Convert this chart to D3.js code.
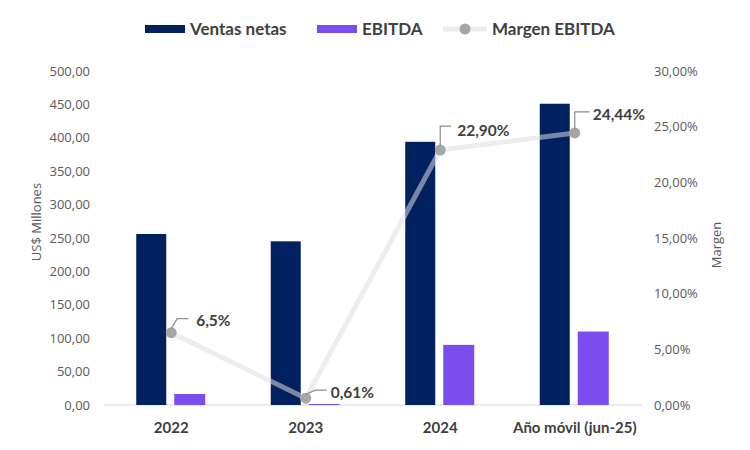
<!DOCTYPE html>
<html>
<head>
<meta charset="utf-8">
<script src="https://cdn.jsdelivr.net/npm/d3@7"></script>
<style>
  body { margin: 0; background: #fff; }
</style>
</head>
<body>
<svg width="750" height="450" font-family="Lato, 'Open Sans', sans-serif"></svg>
<script>
const categories = ["2022", "2023", "2024", "Año móvil (jun-25)"];
const ventasNetas = [256, 245, 394, 451];
const ebitda = [16.5, 1.5, 90, 110];
const margen = [6.5, 0.61, 22.9, 24.44];
const margenLabels = ["6,5%", "0,61%", "22,90%", "24,44%"];
const leftTicks = [0, 50, 100, 150, 200, 250, 300, 350, 400, 450, 500];
const rightTicks = [0, 5, 10, 15, 20, 25, 30];

const svg = d3.select("svg");
const margin = { top: 71, right: 108, bottom: 45, left: 104 };
const width = 750, height = 450;
const innerWidth = width - margin.left - margin.right;
const innerHeight = height - margin.top - margin.bottom;

const navy = "#002060";
const purple = "#7c4dee";
const textCol = "#595959";
const labelCol = "#404040";

const x = d3.scaleBand().domain(categories).range([0, innerWidth]);
const y = d3.scaleLinear().domain([0, 500]).range([innerHeight, 0]);
const y2 = d3.scaleLinear().domain([0, 30]).range([innerHeight, 0]);

const fmt = (v) => d3.format(".2f")(v).replace(".", ",");

const g = svg.append("g").attr("transform", `translate(${margin.left},${margin.top})`);

// left tick labels
g.selectAll(".ltick")
  .data(leftTicks)
  .enter().append("text")
  .attr("class", "tick-label")
  .attr("x", -14)
  .attr("y", (d) => y(d) + 4.5)
  .attr("text-anchor", "end")
  .text(fmt);

// right tick labels
g.selectAll(".rtick")
  .data(rightTicks)
  .enter().append("text")
  .attr("class", "tick-label")
  .attr("x", innerWidth + 12)
  .attr("y", (d) => y2(d) + 4.5)
  .text((d) => fmt(d) + "%");

// axis titles
svg.append("text")
  .attr("class", "tick-label")
  .attr("transform", "translate(41,222) rotate(-90)")
  .attr("text-anchor", "middle")
  .text("US$ Millones");
svg.append("text")
  .attr("class", "tick-label")
  .attr("transform", "translate(721,245) rotate(-90)")
  .attr("text-anchor", "middle")
  .text("Margen");

svg.selectAll(".tick-label")
  .attr("fill", textCol)
  .attr("font-size", 13)
  .attr("font-family", "'Open Sans', sans-serif");

// baseline
g.append("line")
  .attr("x1", 0).attr("x2", innerWidth)
  .attr("y1", y(0)).attr("y2", y(0))
  .attr("stroke", "#d9d9d9").attr("stroke-width", 1);

// x labels
g.selectAll(".xlab")
  .data(categories)
  .enter().append("text")
  .attr("x", (d) => x(d) + x.bandwidth() / 2)
  .attr("y", innerHeight + 28)
  .attr("text-anchor", "middle")
  .attr("fill", labelCol)
  .attr("font-size", 15)
  .attr("font-weight", "bold")
  .text((d) => d);

// bars
const barW = 30;
g.selectAll(".venta")
  .data(categories)
  .enter().append("rect")
  .attr("x", (d) => x(d) + x.bandwidth() / 2 - 35)
  .attr("y", (d, i) => y(ventasNetas[i]))
  .attr("width", barW)
  .attr("height", (d, i) => y(0) - y(ventasNetas[i]))
  .attr("fill", navy);

g.selectAll(".ebitda")
  .data(categories)
  .enter().append("rect")
  .attr("x", (d) => x(d) + x.bandwidth() / 2 + 3)
  .attr("y", (d, i) => y(ebitda[i]))
  .attr("width", barW + 1)
  .attr("height", (d, i) => y(0) - y(ebitda[i]))
  .attr("fill", purple);

// margin line
const pts = categories.map((c, i) => [x(c) + x.bandwidth() / 2, y2(margen[i])]);
g.append("path")
  .attr("d", d3.line()(pts))
  .attr("fill", "none")
  .attr("stroke", "#dedede")
  .attr("stroke-opacity", 0.55)
  .attr("stroke-width", 5)
  .attr("stroke-linejoin", "round");

g.selectAll(".pt")
  .data(pts)
  .enter().append("circle")
  .attr("cx", (d) => d[0])
  .attr("cy", (d) => d[1])
  .attr("r", 5.5)
  .attr("fill", "#a6a6a6");

// labels with leader lines
const leaders = [
  { dx1: 6, dy1: -14, dx2: 17, tx: 25, ty: -12 },
  { dx1: 10, dy1: -8, dx2: 21, tx: 25, ty: -6 },
  { dx1: 0, dy1: -24, dx2: 11, tx: 17, ty: -20 },
  { dx1: 0, dy1: -21, dx2: 15, tx: 18, ty: -18 },
];
pts.forEach((p, i) => {
  const l = leaders[i];
  g.append("path")
    .attr("d", `M${p[0]},${p[1] - 4}L${p[0] + l.dx1},${p[1] + l.dy1}L${p[0] + l.dx2},${p[1] + l.dy1}`)
    .attr("fill", "none")
    .attr("stroke", "#8c8c8c")
    .attr("stroke-width", 1.2);
  g.append("text")
    .attr("x", p[0] + l.tx)
    .attr("y", p[1] + l.ty + 5.5)
    .attr("fill", labelCol)
    .attr("font-size", 15.5)
    .attr("font-weight", "bold")
    .text(margenLabels[i]);
});

// legend
const leg = svg.append("g").attr("transform", "translate(0,29)");
leg.append("rect").attr("x", 145).attr("y", -4).attr("width", 40).attr("height", 8).attr("fill", navy);
leg.append("text").attr("x", 190).attr("y", 6).text("Ventas netas");
leg.append("rect").attr("x", 317).attr("y", -4).attr("width", 40).attr("height", 8).attr("fill", purple);
leg.append("text").attr("x", 362).attr("y", 6).text("EBITDA");
leg.append("line").attr("x1", 443).attr("x2", 487).attr("stroke", "#dedede")
  .attr("stroke-opacity", 0.55).attr("stroke-width", 5);
leg.append("circle").attr("cx", 465).attr("r", 5.5).attr("fill", "#a6a6a6");
leg.append("text").attr("x", 492).attr("y", 6).text("Margen EBITDA");
leg.selectAll("text").attr("fill", labelCol).attr("font-size", 17).attr("font-weight", "bold");
</script>
</body>
</html>
